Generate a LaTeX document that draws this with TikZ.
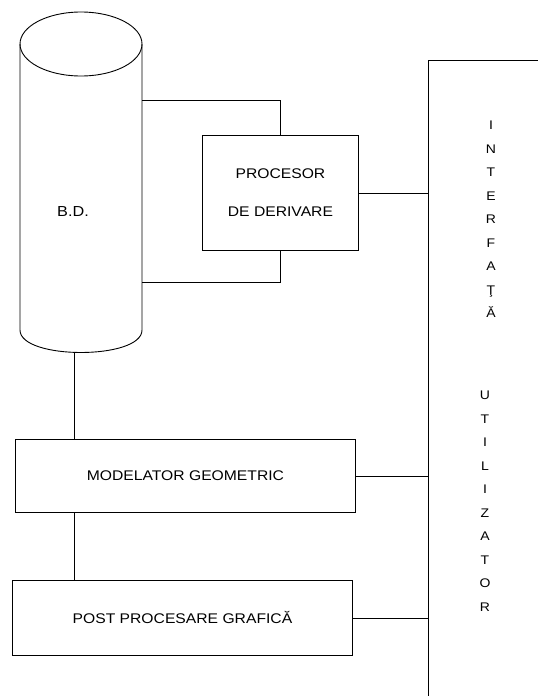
\documentclass[tikz,border=0pt]{standalone}
\usepackage{fontspec}
\setmainfont{Liberation Sans}[FakeStretch=1.12]
\begin{document}
\begin{tikzpicture}[x=1pt,y=-1pt,line width=0.9pt,
  blk/.style={draw,anchor=north west,inner sep=0pt,align=center,font=\fontsize{14}{38}\selectfont},
  vlet/.style={anchor=base,inner sep=0pt,font=\fontsize{12.5}{14}\selectfont}]
\useasboundingbox (0,0) rectangle (538,696);
% cylinder (B.D.)
\draw (81,44) ellipse [x radius=61pt, y radius=32pt];
\draw (20,44) -- (20,330) .. controls (20,360) and (142,360) .. (142,330) -- (142,44);
\node[font=\fontsize{14.5}{17}\selectfont] (bd) at (73,212) {B.D.};
\coordinate (a1) at (142,100);
\coordinate (a2) at (142,282);
\coordinate (cb) at (74,352);
% boxes
\node[blk,minimum width=156pt,minimum height=115pt] (proc) at (202,135) {PROCESOR\\DE DERIVARE};
\node[blk,minimum width=340pt,minimum height=73pt] (model) at (15,439) {MODELATOR GEOMETRIC};
\node[blk,minimum width=340pt,minimum height=75pt] (post) at (12,580) {POST PROCESARE GRAFICĂ};
% interface
\coordinate (ui) at (428,60);
\coordinate (ur) at (540,60);
\coordinate (ub) at (428,700);
\draw (ur) -- (ui) -- (ub);
\foreach \t [count=\i] in {I,N,T,E,R,F,A,Ţ,Ă}
  \node[vlet] (i\i) at (491,{129.5+23.5*(\i-1)}) {\t};
\foreach \t [count=\i] in {U,T,I,L,I,Z,A,T,O,R}
  \node[vlet] (u\i) at (485,{399.5+23.5*(\i-1)}) {\t};
% connectors
\draw (a1) -| (proc.north);
\draw (proc.south) |- (a2);
\draw (proc.east) -- (proc.east -| ui);
\draw (cb) -- (cb |- model.north);
\draw (model.south -| cb) -- (post.north -| cb);
\draw (model.east) -- (model.east -| ui);
\draw (post.east) -- (post.east -| ui);
\end{tikzpicture}
\end{document}
